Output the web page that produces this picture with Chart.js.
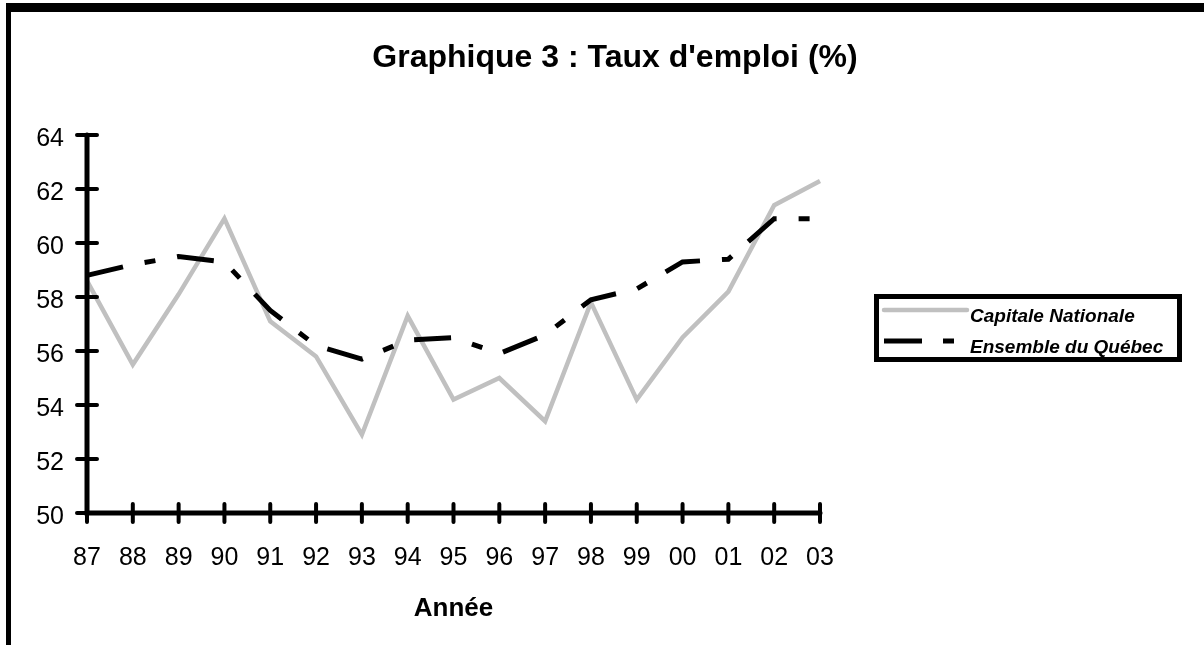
<!DOCTYPE html>
<html>
<head>
<meta charset="utf-8">
<script src="https://cdn.jsdelivr.net/npm/chart.js@4/dist/chart.umd.min.js"></script>
<style>
  html, body { margin: 0; padding: 0; background: #fff; overflow: hidden; }
  #frame { position: absolute; left: 6px; top: 3px; width: 2000px; height: 2000px;
           border-left: 5px solid #000; border-top: 9px solid #000; }
  #myChart { position: absolute; left: 0; top: 0; }
</style>
</head>
<body>
<div id="frame"></div>
<canvas id="myChart" width="1204" height="645"></canvas>
<script>
let years = ['87', '88', '89', '90', '91', '92', '93', '94', '95', '96', '97', '98', '99', '00', '01', '02', '03'];
let capitaleNationale = [58.6, 55.5, 58.1, 60.9, 57.1, 55.8, 52.9, 57.3, 54.2, 55.0, 53.4, 57.8, 54.2, 56.5, 58.2, 61.4, 62.3];
let ensembleQuebec = [58.8, 59.2, 59.5, 59.3, 57.5, 56.2, 55.7, 56.4, 56.5, 55.9, 56.6, 57.9, 58.3, 59.3, 59.4, 60.9, 60.9];
let seriesNames = ['Capitale Nationale', 'Ensemble du Québec'];
let yMin = 50, yMax = 64, yStep = 2;

const FONT = "'Liberation Sans', Arial, sans-serif";

// axes drawn by hand so the tick marks cross the axis line
const crossAxes = {
    id: 'crossAxes',
    afterDatasetsDraw(chart) {
        const ctx = chart.ctx;
        const x = chart.scales.x, y = chart.scales.y;
        const x0 = x.getPixelForValue(0);
        const x1 = x.getPixelForValue(years.length - 1);
        const yTop = y.getPixelForValue(yMax);
        const yBot = y.getPixelForValue(yMin);
        ctx.save();
        ctx.strokeStyle = '#000';
        ctx.lineCap = 'round';
        ctx.lineWidth = 5;
        ctx.beginPath();
        ctx.moveTo(x0, yTop);
        ctx.lineTo(x0, yBot);
        ctx.lineTo(x1, yBot);
        ctx.stroke();
        ctx.lineWidth = 4;
        ctx.beginPath();
        for (let v = yMin; v <= yMax; v += yStep) {
            const py = y.getPixelForValue(v);
            ctx.moveTo(x0 - 10, py);
            ctx.lineTo(x0 + 10, py);
        }
        for (let i = 0; i < years.length; i++) {
            const px = x.getPixelForValue(i);
            ctx.moveTo(px, yBot - 9);
            ctx.lineTo(px, yBot + 9);
        }
        ctx.stroke();
        ctx.restore();
    }
};

// boxed legend to the right of the plot
const boxLegend = {
    id: 'boxLegend',
    afterDraw(chart) {
        const ctx = chart.ctx;
        const area = chart.chartArea;
        const lx = area.right + 54, ly = area.top + 159;
        const w = 308, h = 68;
        ctx.save();
        ctx.strokeStyle = '#000';
        ctx.lineWidth = 5;
        ctx.strokeRect(lx + 2.5, ly + 2.5, w - 5, h - 5);
        const sets = chart.data.datasets;
        sets.forEach((ds, i) => {
            const ry = ly + 16 + i * 31;
            ctx.beginPath();
            ctx.strokeStyle = ds.borderColor;
            ctx.lineWidth = ds.borderWidth;
            if (ds.borderDash) {
                ctx.lineCap = 'butt';
                ctx.setLineDash([38, 21, 11, 100]);
                ctx.moveTo(lx + 10, ry);
                ctx.lineTo(lx + 80, ry);
            } else {
                ctx.lineCap = 'round';
                ctx.setLineDash([]);
                ctx.moveTo(lx + 10, ry);
                ctx.lineTo(lx + 93, ry);
            }
            ctx.stroke();
            ctx.setLineDash([]);
            ctx.fillStyle = '#000';
            ctx.font = 'italic bold 19px ' + FONT;
            ctx.textAlign = 'left';
            ctx.textBaseline = 'middle';
            ctx.fillText(ds.label, lx + 96, ry + 7);
        });
        ctx.restore();
    }
};

let chart = new Chart(document.getElementById('myChart').getContext('2d'), {
    type: 'line',
    data: {
        labels: years,
        datasets: [{
            label: seriesNames[0],
            data: capitaleNationale,
            borderColor: '#c0c0c0',
            borderWidth: 4.5,
            pointRadius: 0,
            tension: 0,
            fill: false,
            order: 1
        }, {
            label: seriesNames[1],
            data: ensembleQuebec,
            borderColor: '#000000',
            borderWidth: 5,
            borderDash: [37, 22, 11, 22],
            borderCapStyle: 'butt',
            pointRadius: 0,
            tension: 0,
            fill: false,
            order: 0
        }]
    },
    options: {
        responsive: false,
        animation: false,
        devicePixelRatio: 1,
        layout: { padding: { left: 26, right: 0, top: 0, bottom: 0 } },
        plugins: {
            legend: { display: false },
            tooltip: { enabled: false },
            title: {
                display: true,
                text: 'Graphique 3 : Taux d\'emploi (%)',
                color: '#000',
                font: { family: FONT, size: 32, weight: 'bold' },
                padding: { top: 39, bottom: 57.6 }
            }
        },
        scales: {
            x: {
                type: 'category',
                offset: false,
                grid: { display: false, drawTicks: false },
                border: { display: false },
                ticks: { color: '#000', font: { family: FONT, size: 25 }, padding: 30, maxRotation: 0, autoSkip: false },
                title: {
                    display: true,
                    text: 'Année',
                    color: '#000',
                    font: { family: FONT, size: 26, weight: 'bold' },
                    padding: { top: 0, bottom: 21 }
                },
                afterFit(s) { s.height = 132; }
            },
            y: {
                min: yMin,
                max: yMax,
                grid: { display: false, drawTicks: false },
                border: { display: false },
                ticks: { stepSize: yStep, color: '#000', font: { family: FONT, size: 25 }, padding: 23, labelOffset: 4 },
                afterFit(s) { s.width = 61; }
            },
            yR: {
                position: 'right',
                min: 0,
                max: 1,
                grid: { display: false, drawTicks: false },
                border: { display: false },
                ticks: { display: false },
                afterFit(s) { s.width = 384; }
            }
        }
    },
    plugins: [crossAxes, boxLegend]
});
</script>
</body>
</html>
